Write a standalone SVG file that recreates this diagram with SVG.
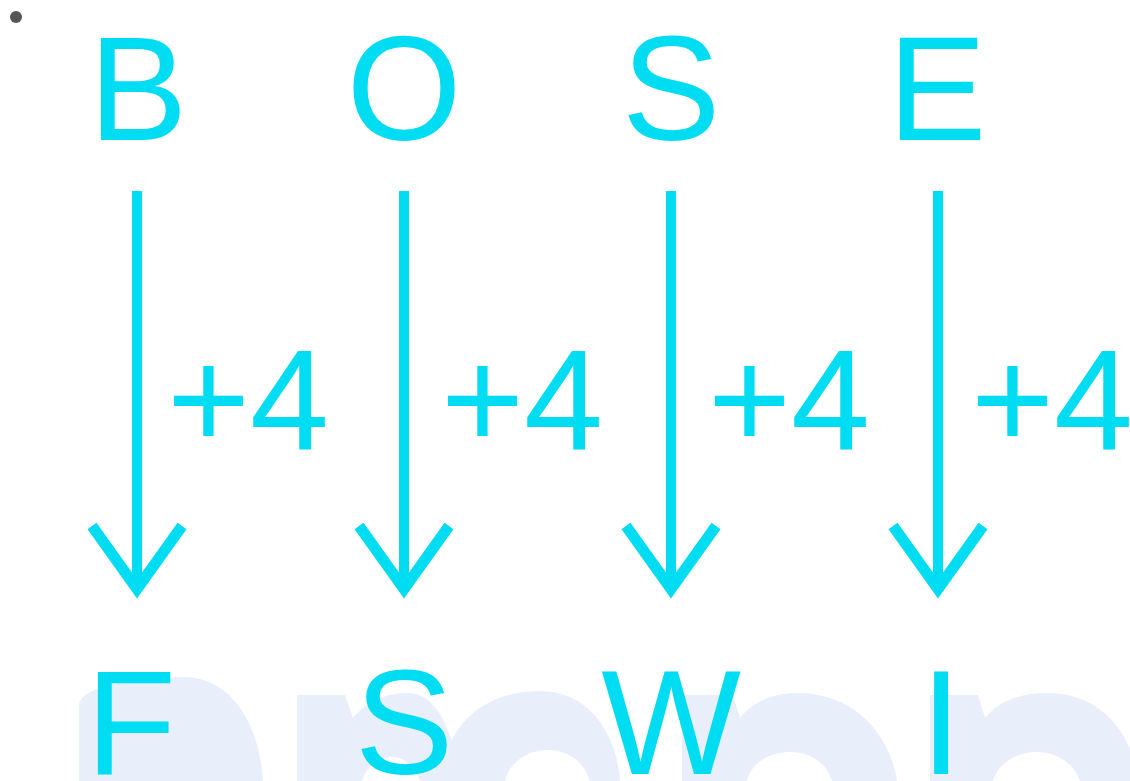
<svg xmlns="http://www.w3.org/2000/svg" width="1130" height="781" viewBox="0 0 1130 781">
  <style>
    .wm { fill: #E8EFFA; stroke: none; }
    .letter { font-family: "Liberation Sans", Arial, sans-serif; font-size: 148px; fill: #00DCF2; text-anchor: middle; }
    .lbl { font-family: "Liberation Sans", Arial, sans-serif; font-size: 142px; fill: #00DCF2; }
    .shaft { stroke: #00DCF2; stroke-width: 10; fill: none; }
  </style>
  <defs>
    <marker id="chev" markerUnits="userSpaceOnUse" viewBox="-80 -60 100 120" refX="0" refY="0" markerWidth="100" markerHeight="120" orient="auto" overflow="visible">
      <path d="M-63,-45 L0,0 L-63,45" fill="none" stroke="#00DCF2" stroke-width="11" stroke-linejoin="miter" stroke-miterlimit="10"/>
    </marker>
  </defs>
  <rect width="1130" height="781" fill="#FFFFFF"/>
  <g id="watermark">
    <path class="wm" d="M79,781 L79,705 C79,688 130,677 183,677 C235,677 260,730 263,781 Z"/>
    <path class="wm" d="M297,781 L297,695 L345,695 L353,718 C368,700 388,693 408,693 C440,693 455,740 460,781 L420,781 C416,768 405,757 392,757 C378,757 365,768 362,781 Z"/>
    <path class="wm" fill-rule="evenodd" d="M443,781 C443,730 480,691 540,691 C590,691 617,735 620,781 Z M505,781 C508,765 525,750 548,750 C570,750 586,765 590,781 Z"/>
    <path class="wm" d="M682,781 L682,695 L733,695 L740,718 C755,700 775,693 798,693 C855,693 890,735 897,781 L832,781 C828,765 812,752 790,752 C768,752 750,765 747,781 Z"/>
    <path class="wm" d="M930,781 L930,695 L978,695 L985,718 C1000,700 1022,693 1047,693 C1100,693 1130,730 1140,781 L1080,781 C1075,765 1058,752 1037,752 C1015,752 997,765 993,781 Z"/>
  </g>
  <circle id="bullet" cx="16" cy="17" r="6" fill="#555555"/>
  <g id="connectors">
    <line class="shaft" x1="137" y1="191" x2="137" y2="589" marker-end="url(#chev)"/>
    <line class="shaft" x1="404" y1="191" x2="404" y2="589" marker-end="url(#chev)"/>
    <line class="shaft" x1="671" y1="191" x2="671" y2="589" marker-end="url(#chev)"/>
    <line class="shaft" x1="938" y1="191" x2="938" y2="589" marker-end="url(#chev)"/>
  </g>
  <g id="node-B"><text class="letter" x="138" y="140">B</text></g>
  <g id="node-O"><text class="letter" x="404" y="140">O</text></g>
  <g id="node-S-top"><text class="letter" x="671" y="140">S</text></g>
  <g id="node-E"><text class="letter" x="937" y="140">E</text></g>
  <g id="label-1"><text class="lbl" x="167" y="449">+4</text></g>
  <g id="label-2"><text class="lbl" x="441" y="449">+4</text></g>
  <g id="label-3"><text class="lbl" x="708" y="449">+4</text></g>
  <g id="label-4"><text class="lbl" x="971" y="449">+4</text></g>
  <g id="node-F"><text class="letter" x="131" y="774">F</text></g>
  <g id="node-S-bottom"><text class="letter" x="404" y="774">S</text></g>
  <g id="node-W"><text class="letter" x="671" y="774">W</text></g>
  <g id="node-I"><text class="letter" x="941" y="774">I</text></g>
</svg>
